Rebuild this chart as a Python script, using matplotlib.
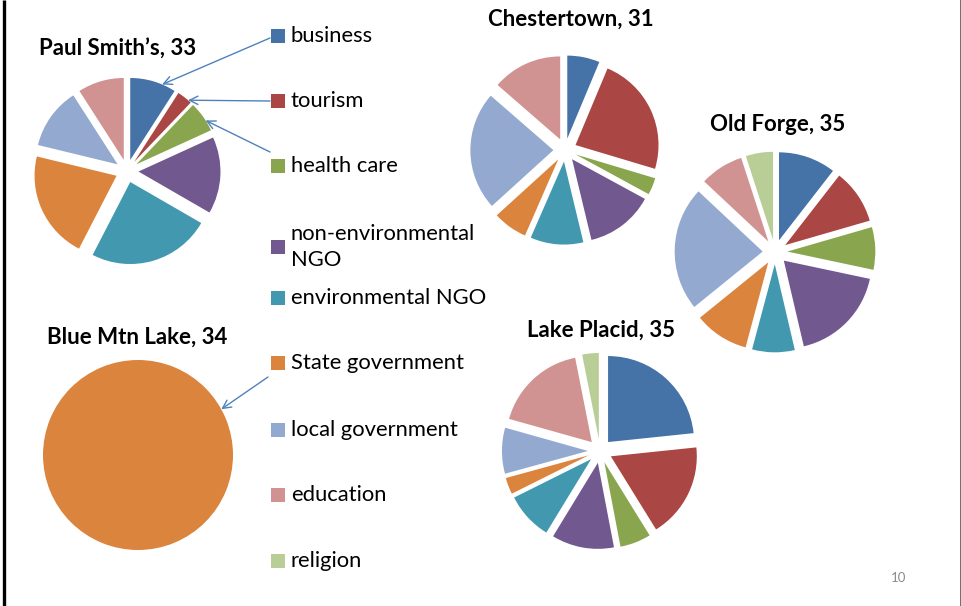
import numpy as np
import matplotlib
matplotlib.use("Agg")
import matplotlib.pyplot as plt
from matplotlib.patches import Rectangle

categories = ["business", "tourism", "health care", "non-environmental\nNGO",
              "environmental NGO", "State government", "local government",
              "education", "religion"]
colors = ["#4572A7", "#AA4643", "#89A54E", "#71588F", "#4198AF",
          "#DB843D", "#93A9CF", "#D19392", "#B9CD96"]

paul_smiths = [3, 1, 2, 5, 8, 7, 4, 3, 0]
chestertown = [6.3, 23.3, 3.3, 13.3, 10.3, 6.7, 23.1, 13.6, 0]
old_forge = [10.5, 10.0, 7.8, 18.0, 7.8, 10.0, 22.8, 8.0, 5.0]
blue_mtn_lake = [0, 0, 0, 0, 0, 100, 0, 0, 0]
lake_placid = [23.3, 17.8, 5.8, 11.7, 8.9, 3.1, 8.6, 17.5, 3.1]

titles = ["Paul Smith\u2019s, 33", "Chestertown, 31", "Old Forge, 35",
          "Blue Mtn Lake, 34", "Lake Placid, 35"]

W, H = 962, 606
fig = plt.figure(figsize=(W / 100, H / 100), dpi=100)
ax = fig.add_axes([0, 0, 1, 1])

FONT = ["Lato", "DejaVu Sans"]

def Y(y):
    return H - y

def draw_pie(vals, cx, cy, r, explode_frac):
    vals = np.asarray(vals, dtype=float)
    idx = [i for i, v in enumerate(vals) if v > 0]
    v = vals[idx]
    cols = [colors[i] for i in idx]
    ex = [explode_frac * r if len(idx) > 1 else 0 for _ in idx]
    wedges, _ = ax.pie(v, colors=cols, explode=ex, startangle=90,
                       counterclock=False, center=(cx, Y(cy)), radius=r,
                       wedgeprops=dict(linewidth=0), frame=True)
    return dict(zip(idx, wedges))

def tip(wedge, frac=0.5):
    # frac measured clockwise from the wedge's leading edge
    th = np.deg2rad(wedge.theta2 - frac * (wedge.theta2 - wedge.theta1))
    cx, cy = wedge.center
    return (cx + wedge.r * np.cos(th), cy + wedge.r * np.sin(th))

ws_paul = draw_pie(paul_smiths, 127, 171, 82, 0.14)
draw_pie(chestertown, 565, 150, 83, 0.14)
draw_pie(old_forge, 775, 252, 88, 0.14)
ws_blue = draw_pie(blue_mtn_lake, 138, 455, 95, 0.0)
draw_pie(lake_placid, 600, 451, 86, 0.14)

ax.set_xlim(0, W)
ax.set_ylim(0, H)
ax.set_aspect("equal")
ax.axis("off")

title_pos = [(118, 49), (571, 19), (778, 124), (137, 337), (601, 330)]
for t, (x, y) in zip(titles, title_pos):
    ax.text(x, Y(y), t, ha="center", va="center", fontsize=16,
            fontweight="bold", family=FONT, color="black")

# legend
leg_y = [36, 101, 166, 247, 298, 363, 430, 495, 561]
for lab, col, y in zip(categories, colors, leg_y):
    ax.add_patch(Rectangle((271, Y(y) - 7), 14, 14, facecolor=col,
                           edgecolor="none"))
    ax.text(291, Y(y), lab, ha="left", va="center", fontsize=15.8,
            family=FONT, color="black", linespacing=1.35)

# arrows from legend markers to slices
arrow_kw = dict(arrowstyle="->", color="#4F81BD", lw=1.0,
                mutation_scale=15, shrinkA=0, shrinkB=0)
for i, y, f in zip([0, 1, 2], [leg_y[0] + 2, leg_y[1], leg_y[2] - 14],
                   [0.7, 0.77, 0.64]):
    ax.annotate("", xy=tip(ws_paul[i], f), xytext=(270, Y(y)),
                arrowprops=arrow_kw)
ax.annotate("", xy=tip(ws_blue[5], 0.17), xytext=(268, Y(leg_y[5] + 14)),
            arrowprops=arrow_kw)

# page number
ax.text(899, Y(578), "10", ha="center", va="center", fontsize=9.5,
        family=FONT, color="#8C8C8C")

# slide borders
ax.plot([4, 4], [0, H], color="black", lw=2.4, solid_capstyle="butt")
ax.plot([961, 961], [0, H], color="#555555", lw=1.2, solid_capstyle="butt")

fig.savefig("out.png", dpi=100, facecolor="white")
